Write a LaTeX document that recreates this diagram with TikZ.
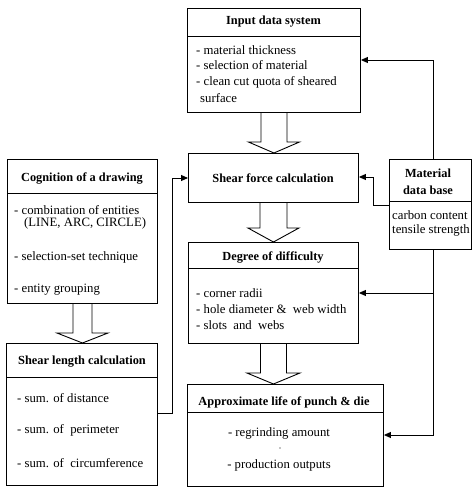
\documentclass[tikz,border=0pt]{standalone}
\usepackage{fontspec}
\setmainfont{Liberation Serif}
\usetikzlibrary{arrows.meta,calc}
\newcommand\blockarrow[5]{%
  \draw[harrow] let \p1=(#1.south), \p2=(#2.north) in
    (\x1-#3bp,\y1) -- (\x1-#3bp,\y2+#5bp) -- (\x1-#4bp,\y2+#5bp) -- (\x1,\y2)
    -- (\x1+#4bp,\y2+#5bp) -- (\x1+#3bp,\y2+#5bp) -- (\x1+#3bp,\y1);}
\begin{document}
\begin{tikzpicture}[x=1bp,y=-1bp,
  box/.style={draw, line width=0.9pt, anchor=north west, inner sep=0pt},
  head/.style={font=\bfseries\fontsize{12.4}{14}\selectfont, inner sep=0pt},
  item/.style={font=\fontsize{12.8}{14}\selectfont, anchor=west, inner sep=0pt},
  citem/.style={font=\fontsize{12.8}{14}\selectfont, inner sep=0pt},
  conn/.style={line width=0.9pt, -{Triangle[length=7bp,width=6bp]}},
  harrow/.style={draw, line width=0.9pt, line join=miter}]
\useasboundingbox (0,0) rectangle (474,487);

% boxes
\node[box, minimum width=173bp, minimum height=104bp] (input) at (187,8) {};
\node[box, minimum width=170bp, minimum height=49bp] (shear) at (188,153) {};
\node[box, minimum width=82bp, minimum height=90bp] (mat) at (389,159) {};
\node[box, minimum width=170bp, minimum height=101bp] (deg) at (188,242) {};
\node[box, minimum width=196bp, minimum height=102bp] (appr) at (187,384) {};
\node[box, minimum width=150bp, minimum height=144bp] (cog) at (7,159) {};
\node[box, minimum width=151bp, minimum height=142bp] (slen) at (6,343) {};

% dividers
\draw[line width=0.9pt] ([yshift=-28bp]input.north west) -- ([yshift=-28bp]input.north east);
\draw[line width=0.9pt] ([yshift=-42bp]mat.north west) -- ([yshift=-42bp]mat.north east);
\draw[line width=0.9pt] ([yshift=-26bp]deg.north west) -- ([yshift=-26bp]deg.north east);
\draw[line width=0.9pt] ([yshift=-28bp]appr.north west) -- ([yshift=-28bp]appr.north east);
\draw[line width=0.9pt] ([yshift=-34bp]cog.north west) -- ([yshift=-34bp]cog.north east);
\draw[line width=0.9pt] ([yshift=-34bp]slen.north west) -- ([yshift=-34bp]slen.north east);

% input data system
\node[head] (inputh) at (273.5,22) {Input data system};
\node[item] (i1) at (196,50) {- material thickness};
\node[item] (i2) at (196,65) {- selection of material};
\node[item] (i3) at (196,82) {- clean cut quota of sheared};
\node[item] (i4) at (200,98) {surface};

% shear force
\node[head] (shearh) at (273,178) {Shear force calculation};

% material data base
\node[head] (math1) at (428,173) {Material};
\node[head] (math2) at (428,190) {data base};
\node[item] (m1) at (392,215) {carbon content};
\node[item] (m2) at (392,230) {tensile strength};

% degree of difficulty
\node[head] (degh) at (273,258) {Degree of difficulty};
\node[item] (d1) at (196,293) {- corner radii};
\node[item] (d2) at (196,309) {- hole diameter \&\ \ web width};
\node[item] (d3) at (196,325) {- slots\ \ and\ \ webs};

% approximate life
\node[head] (apprh) at (284,402) {Approximate life of punch \& die};
\node[citem] (a1) at (279,433) {- regrinding amount};
\fill (280,448) circle (0.6bp);
\node[citem] (a2) at (279,465) {- production outputs};

% cognition
\node[head] (cogh) at (82,179) {Cognition of a drawing};
\node[item] (c1) at (14,210) {- combination of entities};
\node[item] (c2) at (24,223) {(LINE, ARC, CIRCLE)};
\node[item] (c3) at (14,257) {- selection-set technique};
\node[item] (c4) at (14,290) {- entity grouping};

% shear length
\node[head] (slenh) at (82,362) {Shear length calculation};
\node[item] (s1) at (17,398) {- sum. of distance};
\node[item] (s2) at (17,430) {- sum. of\ \ perimeter};
\node[item] (s3) at (17,463) {- sum. of\ \ circumference};

% block arrows
\blockarrow{input}{shear}{13}{25.5}{11}
\blockarrow{shear}{deg}{13.5}{25.5}{14}
\blockarrow{deg}{appr}{13}{26.5}{11}
\blockarrow{cog}{slen}{9.5}{25.5}{10}

% connectors
\draw[conn] (mat.north -| 433,0) |- (input.east |- 0,60);
\draw[conn] (mat.west |- 0,205) -- (373,205) -- (373,177) -- (shear.east |- 0,177);
\draw[conn] (mat.south -| 433,0) |- (deg.east |- 0,293);
\draw[conn] (mat.south -| 433,0) |- (appr.east |- 0,435);
\draw[conn] (slen.east |- 0,413) -- (172,413) -- (172,178) -- (shear.west |- 0,178);
\end{tikzpicture}
\end{document}
